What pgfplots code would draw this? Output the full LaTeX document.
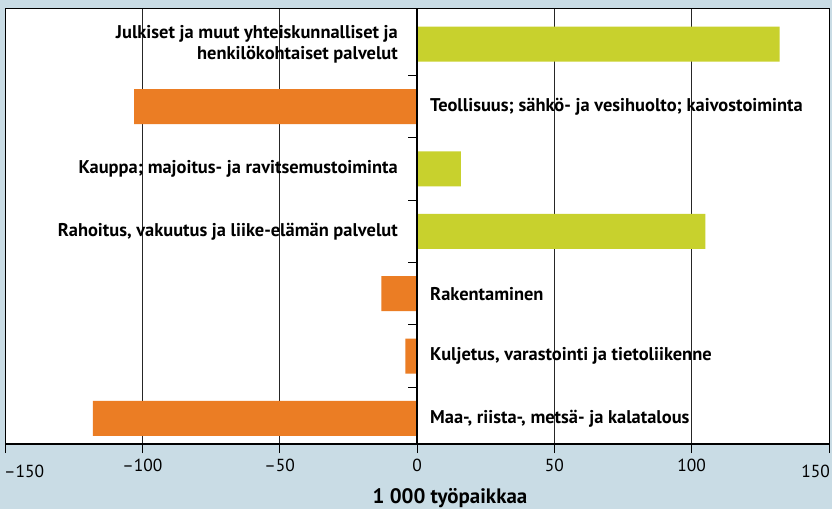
\documentclass[border=0pt]{standalone}
\usepackage{pgfplots}
\pgfplotsset{compat=1.18}
\usepackage{fontspec}
\setmainfont{PT Sans}
\definecolor{bgblue}{RGB}{201,220,229}
\definecolor{barGreen}{RGB}{200,209,45}
\definecolor{barOrange}{RGB}{235,125,36}

\begin{document}
\begin{tikzpicture}
\fill[bgblue] (0,0) rectangle (832bp,509bp);
\begin{axis}[
    at={(5bp,65bp)}, anchor=south west,
    scale only axis,
    width=824bp, height=436bp,
    xmin=-150, xmax=150,
    ymin=-0.41, ymax=6.58,
    axis background/.style={fill=white},
    axis line style={black, line width=0.8bp},
    xtick={-150,-100,-50,0,50,100,150},
    xticklabels={,–100,–50,0,50,100,},
    ytick=\empty,
    xtick pos=bottom,
    tick align=outside,
    major tick length=9bp,
    tick style={black, line width=0.8bp},
    xmajorgrids,
    grid style={black!85, line width=0.8bp},
    xticklabel style={font=\fontsize{17.5}{20}\selectfont, yshift=-3bp},
    xlabel={1 000 työpaikkaa},
    xlabel style={font=\fontsize{21}{24}\selectfont\bfseries, yshift=-9bp, xshift=33bp},
    clip=false,
]
% Julkiset (6), Teollisuus (5), Kauppa (4), Rahoitus (3),
% Rakentaminen (2), Kuljetus (1), Maa (0)
\addplot[xbar, bar shift=0pt, bar width=0.56, fill=barGreen, draw=none]
    coordinates {(132,6) (16,4) (105,3)};
\addplot[xbar, bar shift=0pt, bar width=0.56, fill=barOrange, draw=none]
    coordinates {(-103,5) (-13,2) (-4.2,1) (-118,0)};

% zero line and category separators
\draw[black, line width=2.4bp] (axis cs:0,-0.41) -- (axis cs:0,6.58);
\draw[black, line width=2.6bp] (axis cs:-150,-0.41) -- (axis cs:150,-0.41);
\pgfplotsinvokeforeach{0.5,1.5,2.5,3.5,4.5,5.5}{
    \draw[black, line width=0.8bp] (axis cs:0,#1) -- ++(-9bp,0pt);
}

% end tick labels, pulled inside
\node[anchor=north west, inner sep=0, font=\fontsize{17.5}{20}\selectfont]
    at (axis cs:-150,-0.41) [yshift=-21bp, xshift=-1bp] {–150};
\node[anchor=north east, inner sep=0, font=\fontsize{17.5}{20}\selectfont]
    at (axis cs:150,-0.41) [yshift=-21bp, xshift=1bp] {150};

% category labels
\begin{scope}[every node/.style={inner sep=0, font=\fontsize{18.5}{21}\selectfont\bfseries}]
\node[anchor=east, align=right] at (axis cs:0,6) [xshift=-19bp]
    {Julkiset ja muut yhteiskunnalliset ja\\henkilökohtaiset palvelut};
\node[anchor=west] at (axis cs:0,5) [xshift=13bp]
    {Teollisuus; sähkö- ja vesihuolto; kaivostoiminta};
\node[anchor=east] at (axis cs:0,4) [xshift=-19bp]
    {Kauppa; majoitus- ja ravitsemustoiminta};
\node[anchor=east] at (axis cs:0,3) [xshift=-19bp]
    {Rahoitus, vakuutus ja liike-elämän palvelut};
\node[anchor=west] at (axis cs:0,2) [xshift=13bp] {Rakentaminen};
\node[anchor=west] at (axis cs:0,1) [xshift=13bp]
    {Kuljetus, varastointi ja tietoliikenne};
\node[anchor=west] at (axis cs:0,0) [xshift=13bp]
    {Maa-, riista-, metsä- ja kalatalous};
\end{scope}
\end{axis}
\pgfresetboundingbox
\path (0,0) rectangle (832bp,509bp);
\end{tikzpicture}
\end{document}
